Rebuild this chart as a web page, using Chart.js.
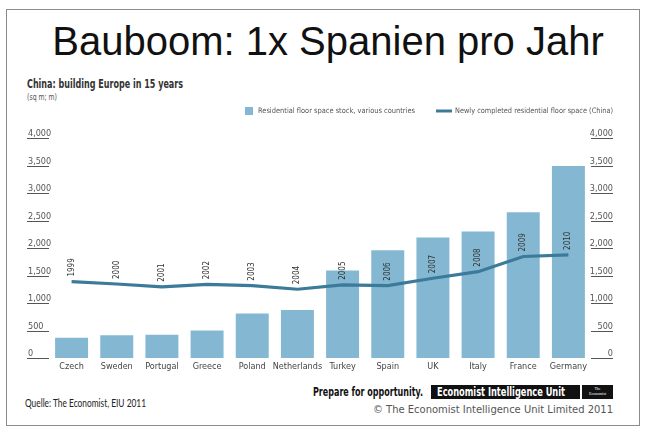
<!DOCTYPE html>
<html>
<head>
<meta charset="utf-8">
<script src="https://cdn.jsdelivr.net/npm/chart.js@4.4.1/dist/chart.umd.min.js"></script>
<style>
  html, body { margin:0; padding:0; background:#fff; }
  body { width:650px; height:438px; position:relative; overflow:hidden; }
  #frame { position:absolute; left:6px; top:9px; width:632px; height:415px; border:1.5px solid #8c8c8c; }
  #title { position:absolute; left:0; width:656px; top:21px; text-align:center; font-family:"Liberation Sans", Arial, sans-serif; font-size:40px; line-height:40px; color:#111; white-space:nowrap; }
  .t { position:absolute; white-space:nowrap; display:inline-block; font-family:"DejaVu Sans Condensed","DejaVu Sans", sans-serif; transform-origin:0 50%; }
  #sub { left:27px; top:78px; font-size:12px; line-height:12px; font-weight:bold; color:#333; }
  #unit { left:27px; top:92px; font-size:8.5px; line-height:10px; color:#555; }
  #src { left:25px; top:397px; font-family:Lato, "Liberation Sans", sans-serif; font-size:11.5px; line-height:12px; color:#222; }
  #prep { left:313px; top:385px; font-size:11.5px; line-height:14px; font-weight:bold; color:#111; }
  #eiu { position:absolute; left:431px; top:385px; width:149px; height:14px; background:#111; }
  #eiut { left:437px; top:385px; font-size:11.5px; line-height:14px; font-weight:bold; color:#fff; }
  #eco { position:absolute; left:582px; top:385px; width:31px; height:14px; background:#111; color:#fff; font-family:"Liberation Serif", serif; font-size:4px; line-height:4.5px; text-align:center; padding-top:2px; box-sizing:border-box; }
  #copy { left:373px; top:403px; font-size:11px; line-height:14px; color:#555; }
  canvas { position:absolute; left:0; top:0; }
</style>
</head>
<body>
<div id="frame"></div>
<div id="title">Bauboom: 1x Spanien pro Jahr</div>
<div class="t" id="sub">China: building Europe in 15 years</div>
<div class="t" id="unit">(sq m; m)</div>
<div class="t" id="src">Quelle: The Economist, EIU 2011</div>
<div class="t" id="prep">Prepare for opportunity.</div>
<div id="eiu"></div>
<div class="t" id="eiut">Economist Intelligence Unit</div>
<div id="eco">The<br>Economist</div>
<div class="t" id="copy">© The Economist Intelligence Unit Limited 2011</div>
<canvas id="c" width="650" height="438"></canvas>
<script>
const categories = ['Czech','Sweden','Portugal','Greece','Poland','Netherlands','Turkey','Spain','UK','Italy','France','Germany'];
const stockValues = [370, 415, 425, 500, 810, 875, 1590, 1960, 2190, 2300, 2650, 3490];
const years = ['1999','2000','2001','2002','2003','2004','2005','2006','2007','2008','2009','2010'];
const completedValues = [1390, 1345, 1295, 1340, 1315, 1250, 1330, 1315, 1450, 1570, 1845, 1875];
const tickValues = [0, 500, 1000, 1500, 2000, 2500, 3000, 3500, 4000];
const stockLabel = 'Residential floor space stock, various countries';
const completedLabel = 'Newly completed residential floor space (China)';

const BAR_COLOR = '#84b8d2';
const LINE_COLOR = '#3c7a9a';
const NARROW = '"DejaVu Sans Condensed","DejaVu Sans", sans-serif';

// fit HTML text blocks to the widths seen in the reference
function fitWidth(id, target) {
  const el = document.getElementById(id);
  const w = el.getBoundingClientRect().width;
  el.style.transform = 'scaleX(' + (target / w) + ')';
}
fitWidth('sub', 156);
fitWidth('unit', 30);
fitWidth('src', 121);
fitWidth('prep', 110);
fitWidth('eiut', 128);
fitWidth('copy', 240);

function fillFit(ctx, txt, x, y, target) {
  const w = ctx.measureText(txt).width;
  ctx.save();
  ctx.translate(x, y);
  ctx.scale(target / w, 1);
  ctx.fillText(txt, 0, 0);
  ctx.restore();
}

const custom = {
  id: 'custom',
  afterDatasetsDraw(chart) {
    const ctx = chart.ctx;
    const ys = chart.scales.y, xs = chart.scales.x;
    const a = chart.chartArea;
    ctx.save();
    // y ticks (both sides) with underline
    ctx.font = '9px ' + NARROW;
    ctx.fillStyle = '#555';
    ctx.strokeStyle = '#555';
    ctx.lineWidth = 1;
    tickValues.forEach(v => {
      const py = Math.round(ys.getPixelForValue(v)) + 0.5;
      const txt = v.toLocaleString('en-US');
      ctx.beginPath();
      ctx.moveTo(a.left - 22, py); ctx.lineTo(a.left, py);
      ctx.moveTo(a.right, py); ctx.lineTo(a.right + 22, py);
      ctx.stroke();
      ctx.textBaseline = 'alphabetic';
      ctx.textAlign = 'left';
      ctx.fillText(txt, a.left - 21, py - 3);
      ctx.textAlign = 'right';
      ctx.fillText(txt, a.right + 22, py - 3);
    });
    // x category labels
    ctx.font = '9px ' + NARROW;
    ctx.fillStyle = '#444';
    ctx.textAlign = 'center';
    ctx.textBaseline = 'middle';
    categories.forEach((c, i) => {
      ctx.fillText(c, xs.getPixelForValue(i), a.bottom + 9);
    });
    // year labels above line points
    const meta = chart.getDatasetMeta(1);
    ctx.font = '8px ' + NARROW;
    ctx.fillStyle = '#333';
    meta.data.forEach((pt, i) => {
      ctx.save();
      ctx.translate(pt.x, pt.y - 5);
      ctx.rotate(-Math.PI / 2);
      ctx.textAlign = 'left';
      ctx.textBaseline = 'middle';
      ctx.fillText(years[i], 0, 0);
      ctx.restore();
    });
    // legend
    ctx.font = '7.5px ' + NARROW;
    ctx.fillStyle = BAR_COLOR;
    ctx.fillRect(245, 107, 8, 8);
    ctx.fillStyle = '#555';
    ctx.textAlign = 'left';
    ctx.textBaseline = 'middle';
    fillFit(ctx, chart.data.datasets[0].label, 258, 111.5, 157);
    ctx.strokeStyle = LINE_COLOR;
    ctx.lineWidth = 3;
    ctx.beginPath(); ctx.moveTo(436, 111); ctx.lineTo(452, 111); ctx.stroke();
    fillFit(ctx, chart.data.datasets[1].label, 455, 111.5, 158);
    ctx.restore();
  }
};

new Chart(document.getElementById('c'), {
  type: 'bar',
  data: {
    labels: categories,
    datasets: [
      { type: 'bar', label: stockLabel, data: stockValues, backgroundColor: BAR_COLOR, borderWidth: 0, barPercentage: 0.73, categoryPercentage: 1, order: 1 },
      { type: 'line', label: completedLabel, data: completedValues, borderColor: LINE_COLOR, borderWidth: 3.2, pointRadius: 0, tension: 0, fill: false, order: 0 }
    ]
  },
  options: {
    responsive: false,
    animation: false,
    layout: { padding: { left: 49, right: 59, top: 138, bottom: 80 } },
    plugins: { legend: { display: false }, tooltip: { enabled: false } },
    scales: {
      x: { display: false, offset: true },
      y: { display: false, min: 0, max: 4000 }
    }
  },
  plugins: [custom]
});
</script>
</body>
</html>
